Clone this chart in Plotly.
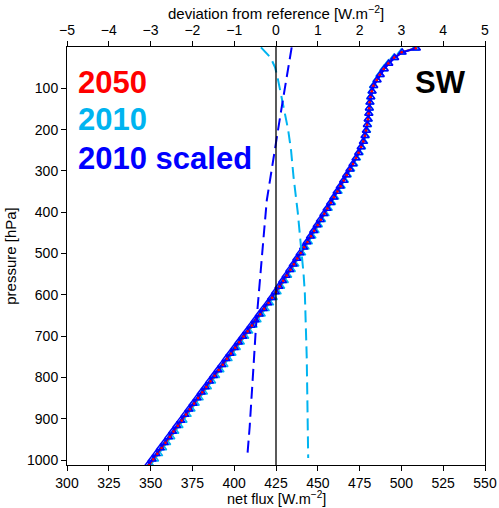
import plotly.graph_objects as go

# ---- data ----
pressure = [1012, 998, 985, 971, 958, 944, 931, 917, 904, 890, 877, 863, 850, 836, 823, 809,
            796, 782, 769, 755, 742, 728, 715, 701, 688, 674, 661, 647, 634, 620, 607, 593,
            580, 566, 553, 539, 526, 512, 499, 485, 472, 458, 445, 431, 418, 404, 391, 377,
            364, 350, 337, 323, 310, 296, 283, 269, 256, 242, 229, 215, 202, 188, 175, 161,
            148, 134, 121, 107, 94, 80, 67, 53, 40, 26, 13, 3]

flux_2010_scaled = [348.4, 350.9, 353.3, 355.8, 358.2, 360.7, 363.1, 365.6, 368.0, 370.5, 372.9, 375.4,
                    377.8, 380.3, 382.7, 385.2, 387.6, 390.2, 392.6, 395.1, 397.5, 400.1, 402.5, 405.1,
                    407.5, 410.1, 412.5, 415.0, 417.4, 420.1, 422.3, 424.6, 426.7, 428.9, 431.0, 433.2,
                    435.3, 437.4, 439.4, 441.5, 443.5, 445.6, 447.5, 449.6, 451.5, 453.6, 455.5, 457.6,
                    459.5, 461.5, 463.4, 465.4, 467.2, 469.2, 471.0, 472.8, 474.4, 475.9, 477.2, 478.2,
                    479.0, 479.6, 480.1, 480.5, 480.8, 481.2, 481.7, 482.5, 483.5, 485.5, 487.4, 489.8,
                    492.5, 496.0, 500.5, 509.0]

flux_2050 = [349.1, 351.6, 354.0, 356.5, 358.9, 361.4, 363.7, 366.2, 368.6, 371.1, 373.5, 376.0,
             378.4, 380.9, 383.3, 385.8, 388.2, 390.7, 393.1, 395.6, 398.0, 400.6, 403.0, 405.6,
             408.0, 410.6, 413.0, 415.5, 417.9, 420.5, 422.7, 425.0, 427.1, 429.3, 431.4, 433.6,
             435.7, 437.7, 439.7, 441.8, 443.8, 445.9, 447.8, 449.9, 451.8, 453.9, 455.7, 457.8,
             459.7, 461.7, 463.6, 465.5, 467.3, 469.3, 471.1, 472.9, 474.4, 475.9, 477.2, 478.2,
             478.9, 479.5, 480.0, 480.4, 480.7, 481.0, 481.5, 482.3, 483.3, 485.3, 487.1, 489.5,
             492.2, 495.7, 500.2, 508.6]

flux_2010 = [349.9, 352.4, 354.8, 357.2, 359.6, 362.1, 364.5, 367.0, 369.4, 371.9, 374.2, 376.7,
             379.1, 381.6, 384.0, 386.5, 388.9, 391.5, 393.9, 396.4, 398.7, 401.3, 403.7, 406.3,
             408.7, 411.3, 413.7, 416.2, 418.6, 421.2, 423.4, 425.7, 427.8, 430.0, 432.0, 434.2,
             436.3, 438.4, 440.4, 442.4, 444.4, 446.5, 448.4, 450.4, 452.3, 454.4, 456.3, 458.3,
             460.2, 462.2, 464.0, 466.0, 467.7, 469.7, 471.5, 473.2, 474.8, 476.2, 477.5, 478.5,
             479.2, 479.8, 480.2, 480.6, 480.9, 481.2, 481.7, 482.4, 483.3, 485.3, 487.1, 489.4,
             492.1, 495.5, 499.9, 508.3]

dev_p_2010 = [1, 10, 20, 32, 50, 75, 105, 150, 200, 250, 315, 400, 492, 550, 596, 650, 750, 850, 995]
dev_2010 = [-0.36, -0.27, -0.18, -0.10, -0.02, 0.04, 0.10, 0.20, 0.29, 0.36, 0.42, 0.52, 0.61,
            0.66, 0.69, 0.71, 0.735, 0.75, 0.77]

dev_p_scaled = [1, 50, 100, 146, 200, 250, 315, 371, 440, 509, 600, 678, 760, 855, 920, 995]
dev_scaled = [0.375, 0.29, 0.21, 0.136, 0.05, -0.03, -0.127, -0.22, -0.28, -0.34, -0.42, -0.48,
              -0.53, -0.58, -0.63, -0.69]

flux_ticks = [300, 325, 350, 375, 400, 425, 450, 475, 500, 525, 550]
dev_ticks = [-5, -4, -3, -2, -1, 0, 1, 2, 3, 4, 5]
p_ticks = [100, 200, 300, 400, 500, 600, 700, 800, 900, 1000]

RED = "#FF0000"
CYAN = "#00B4F0"
BLUE = "#0000FF"
FONT = "Liberation Sans, Arial, Helvetica, sans-serif"

fig = go.Figure()

# deviation curves (top axis)
fig.add_trace(go.Scatter(x=dev_2010, y=dev_p_2010, xaxis="x2", yaxis="y", mode="lines",
                         line=dict(color=CYAN, width=2, dash="12px,6px"), showlegend=False))
fig.add_trace(go.Scatter(x=dev_scaled, y=dev_p_scaled, xaxis="x2", yaxis="y", mode="lines",
                         line=dict(color=BLUE, width=2, dash="12px,6px"), showlegend=False))

# net flux curves (bottom axis)
fig.add_trace(go.Scatter(x=flux_2010, y=pressure, mode="lines+markers",
                         line=dict(color=CYAN, width=2),
                         marker=dict(symbol="triangle-up-open", size=7, color=CYAN, line=dict(width=1.5)),
                         showlegend=False))
fig.add_trace(go.Scatter(x=flux_2050, y=pressure, mode="lines",
                         line=dict(color=RED, width=2),
                         showlegend=False))
fig.add_trace(go.Scatter(x=flux_2010_scaled, y=pressure, mode="lines+markers",
                         line=dict(color=BLUE, width=2),
                         marker=dict(symbol="triangle-up-open", size=7, color=BLUE, line=dict(width=1.5)),
                         showlegend=False))
fig.add_trace(go.Scatter(x=flux_2050, y=pressure, mode="markers",
                         marker=dict(symbol="circle", size=2.5, color=RED),
                         showlegend=False))

# zero line
fig.add_shape(type="line", xref="x2", yref="paper", x0=0, x1=0, y0=0, y1=1,
              line=dict(color="black", width=1.3))

axis_common = dict(showgrid=False, zeroline=False, showline=True, linecolor="black", linewidth=1,
                   ticks="outside", ticklen=5, tickwidth=1, tickcolor="black", automargin=False,
                   tickfont=dict(family=FONT, size=14, color="black"))

fig.update_layout(
    width=499, height=508,
    margin=dict(l=67, r=14, t=47, b=43),
    paper_bgcolor="white", plot_bgcolor="white",
    font=dict(family=FONT, size=14, color="black"),
    xaxis=dict(range=[300, 550], tickvals=flux_ticks, ticktext=[str(v) for v in flux_ticks],
               mirror=False, **axis_common),
    xaxis2=dict(range=[-5, 5], overlaying="x", side="top", anchor="y", tickvals=dev_ticks,
                **axis_common),
    yaxis=dict(range=[1012, 0], tickvals=p_ticks, ticktext=[str(v) for v in p_ticks],
               title=dict(text="pressure [hPa]", font=dict(family=FONT, size=15), standoff=6),
               mirror=True, **axis_common),
)

# axis titles
fig.add_annotation(text="net flux [W.m<sup>−2</sup>]", xref="paper", yref="paper",
                   x=0.5, y=(465 - 508) / 418, xanchor="center", yanchor="bottom",
                   showarrow=False, borderpad=0, font=dict(family=FONT, size=14.5, color="black"))
fig.add_annotation(text="deviation from reference [W.m<sup>−2</sup>]", xref="paper", yref="paper",
                   x=0.5, y=(465 - 2) / 418, xanchor="center", yanchor="top",
                   showarrow=False, borderpad=0, font=dict(family=FONT, size=15, color="black"))

# legend-like labels and panel label
labels = [("2050", RED, 82), ("2010", CYAN, 120), ("2010 scaled", BLUE, 158)]
for txt, col, ypix in labels:
    fig.add_annotation(text="<b>" + txt + "</b>", xref="paper", yref="paper",
                       x=(76 - 67) / 418, y=(465 - ypix) / 418, xanchor="left", yanchor="middle",
                       showarrow=False, font=dict(family=FONT, size=31, color=col))
fig.add_annotation(text="<b>SW</b>", xref="paper", yref="paper",
                   x=(468 - 67) / 418, y=(465 - 82) / 418, xanchor="right", yanchor="middle",
                   showarrow=False, font=dict(family=FONT, size=31, color="black"))

fig.write_html("out.html")
